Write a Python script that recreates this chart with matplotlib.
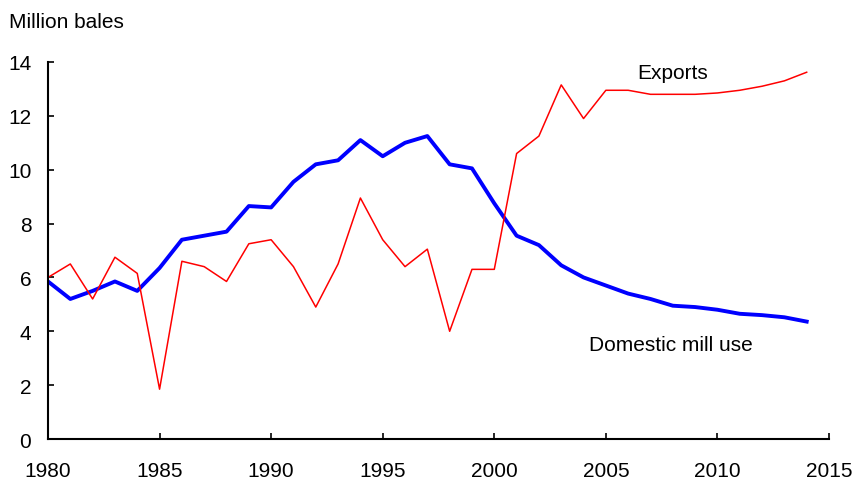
import matplotlib
matplotlib.use("Agg")
import matplotlib.pyplot as plt

plt.rcParams['font.family'] = ['Liberation Sans', 'DejaVu Sans']

years = list(range(1980, 2015))

exports = [6.0, 6.5, 5.2, 6.75, 6.15, 1.85, 6.6, 6.4, 5.85, 7.25,
           7.4, 6.4, 4.9, 6.5, 8.95, 7.4, 6.4, 7.05, 4.0, 6.3,
           6.3, 10.6, 11.25, 13.15, 11.9, 12.95, 12.95, 12.8, 12.8, 12.8,
           12.85, 12.95, 13.1, 13.3, 13.62]

mill_use = [5.85, 5.2, 5.5, 5.85, 5.5, 6.35, 7.4, 7.55, 7.7, 8.65,
            8.6, 9.55, 10.2, 10.35, 11.1, 10.5, 11.0, 11.25, 10.2, 10.05,
            8.75, 7.55, 7.2, 6.45, 6.0, 5.7, 5.4, 5.2, 4.95, 4.9,
            4.8, 4.65, 4.6, 4.52, 4.36]

xticks = [1980, 1985, 1990, 1995, 2000, 2005, 2010, 2015]
yticks = [0, 2, 4, 6, 8, 10, 12, 14]

fig = plt.figure(figsize=(8.54, 4.81), dpi=100)
ax = fig.add_axes([48/854, 1-440/481, (829-48)/854, (440-63)/481])

ax.plot(years, mill_use, color='#0000ff', lw=2.8, solid_joinstyle='round')
ax.plot(years, exports, color='#ff0000', lw=1.1)

ax.set_xlim(1980, 2015)
ax.set_ylim(0, 14)
ax.set_xticks(xticks)
ax.set_yticks(yticks)
ax.spines['top'].set_visible(False)
ax.spines['right'].set_visible(False)
for s in ['left', 'bottom']:
    ax.spines[s].set_linewidth(1.5)
ax.tick_params(axis='both', direction='in', length=4, width=1.2, labelsize=15)
ax.tick_params(axis='x', pad=16)
ax.tick_params(axis='y', pad=12)

ax.text(2008.0, 13.4, "Exports", fontsize=15, ha='center', va='baseline')
ax.text(2004.25, 3.3, "Domestic mill use", fontsize=15, ha='left', va='baseline')
fig.text(9/854, 1-28/481, "Million bales", fontsize=15, ha='left', va='baseline')

fig.savefig("out.png", dpi=100)
